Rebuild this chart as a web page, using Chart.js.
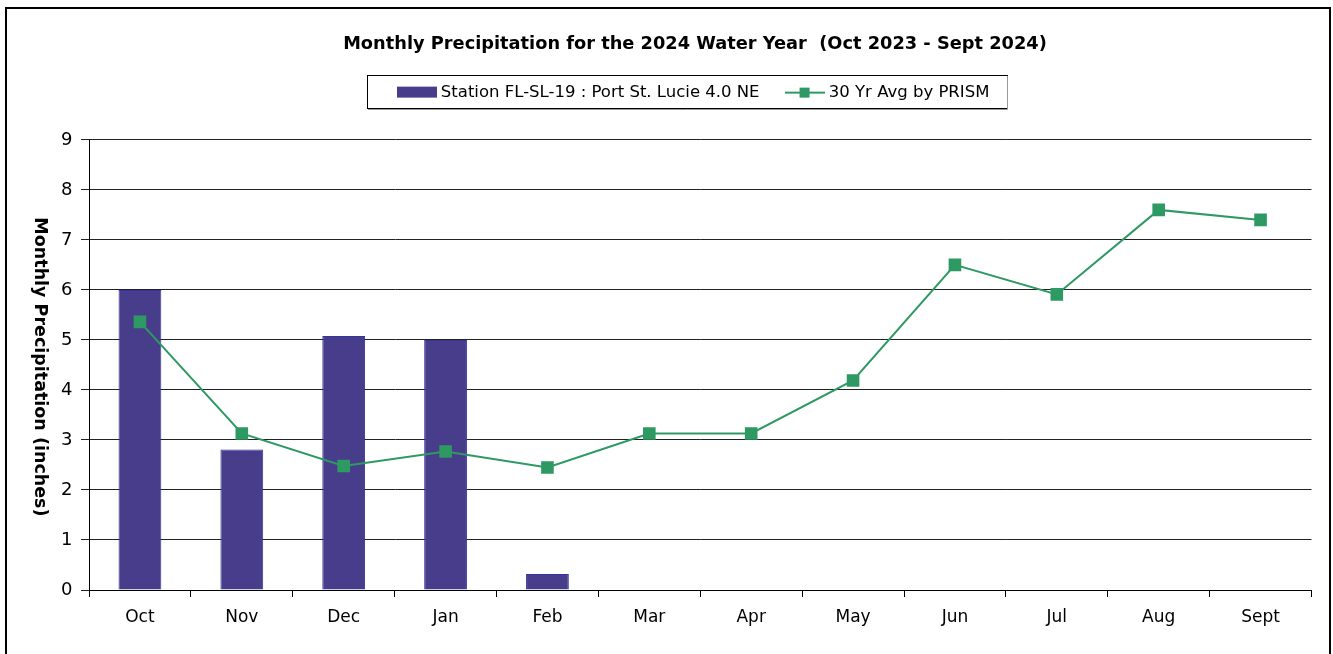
<!DOCTYPE html>
<html>
<head>
<meta charset="utf-8">
<script src="https://cdn.jsdelivr.net/npm/chart.js@4"></script>
<style>
    html, body { margin: 0; padding: 0; background: #fff; }
    #frame {
        position: absolute; left: 5px; top: 7px; width: 1326px; height: 700px;
        border: 2px solid #000; box-sizing: border-box;
    }
    #wrap { position: absolute; left: 0; top: 0; width: 1321px; height: 654px; }
</style>
</head>
<body>
<div id="frame"></div>
<div id="wrap"><canvas id="precipChart"></canvas></div>
<script>
// monthly data, water year Oct 2023 - Sept 2024
const months = ["Oct", "Nov", "Dec", "Jan", "Feb", "Mar", "Apr", "May", "Jun", "Jul", "Aug", "Sept"];
const stationValues = [6.0, 2.81, 5.08, 5.0, 0.32, null, null, null, null, null, null, null];
const prismAverage = [5.36, 3.13, 2.48, 2.77, 2.45, 3.13, 3.13, 4.19, 6.5, 5.91, 7.6, 7.4];
const yTicks = [0, 1, 2, 3, 4, 5, 6, 7, 8, 9];

const colors = {
    bar: "#483D8B",
    barBorder: "#3535a0",
    line: "#2E9963",
};
const FONT = "'DejaVu Sans', Tahoma, sans-serif";

// legend swatches
function barSwatch() {
    const c = document.createElement("canvas");
    c.width = 40; c.height = 14;
    const g = c.getContext("2d");
    g.fillStyle = colors.bar;
    g.fillRect(0, 1, 40, 11);
    return c;
}
function lineSwatch() {
    const c = document.createElement("canvas");
    c.width = 40; c.height = 14;
    const g = c.getContext("2d");
    g.strokeStyle = colors.line;
    g.lineWidth = 2;
    g.beginPath(); g.moveTo(0, 7); g.lineTo(40, 7); g.stroke();
    g.fillStyle = colors.line;
    g.fillRect(15, 2, 10, 10);
    return c;
}

const chartFrame = {
    id: "chartFrame",
    beforeInit(chart) {
        // extra room below the legend
        const legend = chart.legend;
        const fit = legend.fit;
        legend.fit = function () {
            fit.call(this);
            this.height += 29;
        };
    },
    afterDraw(chart) {
        const ctx = chart.ctx;
        // legend box
        const boxes = chart.legend.legendHitBoxes;
        if (boxes && boxes.length) {
            const left = Math.min(...boxes.map(b => b.left)) - 34;
            const right = Math.max(...boxes.map(b => b.left + b.width)) + 17;
            const top = boxes[0].top - 9;
            const bottom = boxes[0].top + boxes[0].height + 7;
            ctx.save();
            ctx.strokeStyle = "#000";
            ctx.lineWidth = 1;
            ctx.strokeRect(Math.round(left) + 0.5, Math.round(top) + 0.5, Math.round(right - left), Math.round(bottom - top));
            ctx.strokeStyle = "#999";
            ctx.beginPath();
            ctx.moveTo(Math.round(left) + 1, Math.round(bottom) + 1.5);
            ctx.lineTo(Math.round(right) + 1.5, Math.round(bottom) + 1.5);
            ctx.lineTo(Math.round(right) + 1.5, Math.round(top) + 1);
            ctx.stroke();
            ctx.restore();
        }
        // y axis title, reading top to bottom
        const area = chart.chartArea;
        ctx.save();
        ctx.translate(40, (area.top + area.bottom) / 2 + 2);
        ctx.rotate(Math.PI / 2);
        ctx.font = "bold 17.5px " + FONT;
        ctx.fillStyle = "#000";
        ctx.textAlign = "center";
        ctx.textBaseline = "middle";
        ctx.fillText("Monthly Precipitation (inches)", 0, 0);
        ctx.restore();
    },
};

new Chart(document.getElementById("precipChart").getContext("2d"), {
    type: "bar",
    data: {
        labels: months,
        datasets: [
            {
                label: "Station FL-SL-19 : Port St. Lucie 4.0 NE",
                data: stationValues,
                backgroundColor: colors.bar,
                borderColor: colors.barBorder,
                borderWidth: 1,
                categoryPercentage: 1,
                barPercentage: 0.42,
                order: 1,
            },
            {
                type: "line",
                label: "30 Yr Avg by PRISM",
                data: prismAverage,
                borderColor: colors.line,
                backgroundColor: colors.line,
                borderWidth: 2,
                pointStyle: "rect",
                pointRadius: 7.5,
                pointHoverRadius: 7.5,
                tension: 0,
                order: 0,
            },
        ],
    },
    options: {
        responsive: true,
        maintainAspectRatio: false,
        animation: false,
        layout: {
            padding: { left: 69, right: 0, top: 0, bottom: 24 },
        },
        plugins: {
            title: {
                display: true,
                text: "Monthly Precipitation for the 2024 Water Year  (Oct 2023 - Sept 2024)",
                color: "#000",
                font: { family: FONT, size: 17.8, weight: "bold" },
                padding: { top: 34, bottom: 0 },
            },
            legend: {
                display: true,
                labels: {
                    color: "#000",
                    font: { family: FONT, size: 16.5 },
                    usePointStyle: true,
                    pointStyleWidth: 32,
                    boxHeight: 14,
                    padding: 29,
                    sort: (a, b) => a.datasetIndex - b.datasetIndex,
                    generateLabels: (chart) => [
                        { text: chart.data.datasets[0].label, pointStyle: barSwatch(), datasetIndex: 0, fontColor: "#000", lineWidth: 0, strokeStyle: "transparent", fillStyle: colors.bar },
                        { text: chart.data.datasets[1].label, pointStyle: lineSwatch(), datasetIndex: 1, fontColor: "#000", lineWidth: 0, strokeStyle: "transparent", fillStyle: colors.line },
                    ],
                },
            },
            tooltip: { enabled: false },
        },
        scales: {
            x: {
                grid: {
                    offset: true,
                    drawOnChartArea: false,
                    drawTicks: true,
                    tickLength: 7,
                    color: "#000",
                },
                border: { color: "#000", width: 1 },
                ticks: {
                    color: "#000",
                    font: { family: FONT, size: 17 },
                    padding: 10,
                },
                afterFit(scale) { scale.height = 40; },
            },
            y: {
                min: 0,
                max: 9,
                grid: {
                    color: "#222",
                    lineWidth: 1,
                    drawTicks: true,
                    tickLength: 8,
                },
                border: { color: "#000", width: 1 },
                ticks: {
                    stepSize: 1,
                    color: "#000",
                    font: { family: FONT, size: 18 },
                    // mirrored labels are not clipped to the narrow axis box
                    mirror: true,
                    padding: -28,
                    callback: (v) => (yTicks.includes(v) ? String(v) : ""),
                },
                afterFit(scale) { scale.width = 20; },
            },
        },
    },
    plugins: [chartFrame],
});
</script>
</body>
</html>
